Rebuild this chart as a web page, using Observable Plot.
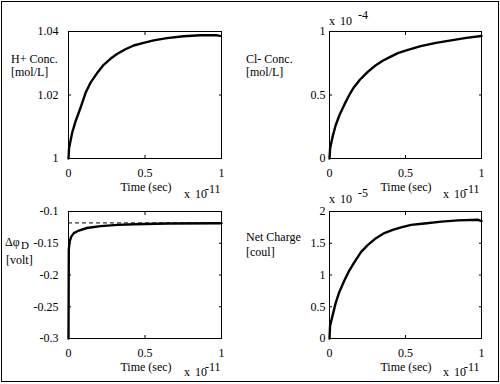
<!DOCTYPE html>
<html><head><meta charset="utf-8">
<script src="https://cdn.jsdelivr.net/npm/d3@7"></script>
<script src="https://cdn.jsdelivr.net/npm/@observablehq/plot@0.6"></script>
<style>
body{margin:0;background:#fff;}
#wrap{position:relative;width:500px;height:384px;overflow:hidden;background:#fff;font-family:"Liberation Serif","Times New Roman",serif;font-size:12px;color:#000;}
#border{position:absolute;left:1px;top:1px;width:496px;height:379px;border:1px solid #000;}
.panel{position:absolute;}
.lbl{position:absolute;white-space:nowrap;line-height:12px;height:12px;color:#000;}
</style></head><body><div id="wrap"><div id="border"></div></div>
<script>
// time in units of 1e-11 s
const timeTicks = [0, 0.5, 1];

const hTime = [0, 0.004, 0.024, 0.046, 0.078, 0.111, 0.143, 0.187, 0.23, 0.274, 0.317, 0.372, 0.426, 0.491, 0.557, 0.643, 0.752, 0.861, 0.97, 0.99];
const hConc = [1.0, 1.0034, 1.0081, 1.0117, 1.0159, 1.0206, 1.0238, 1.0269, 1.0295, 1.0314, 1.0329, 1.0344, 1.0356, 1.0364, 1.0372, 1.0379, 1.0385, 1.0388, 1.0388, 1.0386];
const hTicks = [1, 1.02, 1.04];

// Cl- concentration in units of 1e-4 mol/L
const clTime = [0, 0.004, 0.02, 0.04, 0.065, 0.1, 0.13, 0.16, 0.2, 0.25, 0.3, 0.35, 0.4, 0.45, 0.5, 0.6, 0.7, 0.8, 0.9, 1.0];
const clConc = [0, 0.08, 0.17, 0.26, 0.34, 0.43, 0.5, 0.56, 0.62, 0.68, 0.73, 0.77, 0.8, 0.83, 0.85, 0.885, 0.91, 0.93, 0.95, 0.965];
const clTicks = [0, 0.5, 1];

// membrane potential difference [volt]
const phiTime = [0, 0.002, 0.007, 0.017, 0.035, 0.068, 0.12, 0.21, 0.32, 0.43, 0.65, 1.0];
const phiVolt = [-0.3, -0.16, -0.148, -0.14, -0.134, -0.13, -0.126, -0.123, -0.121, -0.12, -0.119, -0.1185];
const phiRef = [-0.118];
const phiTicks = [-0.3, -0.25, -0.2, -0.15, -0.1];

// net charge in units of 1e-5 coul
const qTime = [0, 0.004, 0.02, 0.042, 0.064, 0.097, 0.13, 0.163, 0.207, 0.251, 0.306, 0.361, 0.416, 0.471, 0.537, 0.625, 0.736, 0.846, 0.978, 1.0];
const qCharge = [0, 0.2, 0.36, 0.57, 0.73, 0.91, 1.07, 1.2, 1.36, 1.47, 1.58, 1.66, 1.71, 1.75, 1.79, 1.81, 1.84, 1.86, 1.87, 1.85];
const qTicks = [0, 0.5, 1, 1.5, 2];

const wrap = document.getElementById("wrap");
const FONT = '"Liberation Serif","Times New Roman",serif';

function panel({t, v, ticks, pos, ml, mr, padY, extra = []}) {
  const data = t.map((d, i) => ({t: d, v: v[i]}));
  const yDomain = [ticks[0], ticks[ticks.length - 1]];
  const fmt = d => String(d);
  const svg = Plot.plot({
    width: 250, height: 192,
    marginLeft: ml, marginRight: mr, marginTop: 31, marginBottom: 34,
    style: {background: "none", overflow: "visible", fontFamily: FONT, fontSize: "12px", color: "#000"},
    x: {domain: [0, 1], label: null},
    y: {domain: yDomain, label: null},
    marks: [
      ...extra,
      Plot.line(data, {x: "t", y: "v", stroke: "#000", strokeWidth: 2.4, strokeLinejoin: "round"}),
      Plot.frame({stroke: "#000", strokeWidth: 1}),
      Plot.axisX({anchor: "bottom", ticks: timeTicks, tickSize: 0, tickPadding: 10, tickFormat: fmt, label: null, fontSize: 12}),
      Plot.axisX({anchor: "bottom", ticks: timeTicks, tickSize: -3, fill: "none", label: null}),
      Plot.axisX({anchor: "top", ticks: timeTicks, tickSize: -3, fill: "none", label: null}),
      Plot.axisY({anchor: "left", ticks, tickSize: 0, tickPadding: padY, tickFormat: fmt, label: null, fontSize: 12}),
      Plot.axisY({anchor: "left", ticks, tickSize: -3, fill: "none", label: null}),
      Plot.axisY({anchor: "right", ticks, tickSize: -3, fill: "none", label: null})
    ]
  });
  svg.classList.add("panel");
  svg.style.left = pos[0] + "px";
  svg.style.top = pos[1] + "px";
  wrap.appendChild(svg);
}

panel({t: hTime, v: hConc, ticks: hTicks, pos: [0, 0], ml: 68, mr: 29, padY: 10});
panel({t: clTime, v: clConc, ticks: clTicks, pos: [250, 0], ml: 79, mr: 19, padY: 4});
panel({t: phiTime, v: phiVolt, ticks: phiTicks, pos: [0, 180], ml: 68, mr: 29, padY: 10,
  extra: [Plot.ruleY(phiRef, {stroke: "#000", strokeWidth: 1, strokeDasharray: "4,3"})]});
panel({t: qTime, v: qCharge, ticks: qTicks, pos: [250, 180], ml: 79, mr: 19, padY: 4});

function label(text, x, baseline, center = false, extraStyle = "") {
  const s = document.createElement("span");
  s.className = "lbl";
  s.textContent = text;
  s.style.left = x + "px";
  s.style.top = (baseline - 10) + "px";
  if (center) s.style.transform = "translateX(-50%)";
  if (extraStyle) s.style.cssText += extraStyle;
  wrap.appendChild(s);
}
const timeLabel = "Time (sec)";
const scaleBase = "x 10";
const ws = "word-spacing:2px;";
// panel 1
label("H+ Conc.", 11, 63);
label("[mol/L]", 11, 76);
label(timeLabel, 146, 191, true);
label(scaleBase, 184, 198, false, ws); label("-11", 205, 193);
// panel 2
label("Cl- Conc.", 246, 63);
label("[mol/L]", 246, 76);
label(scaleBase, 329, 25, false, ws); label("-4", 358, 19);
label(timeLabel, 406, 191, true);
label(scaleBase, 443, 198, false, ws); label("-11", 464, 193);
// panel 3
label("\u0394\u03C6", 5, 246); label("D", 21, 250, false, "font-size:11px;height:11px;line-height:11px;");
label("[volt]", 6, 264);
label(timeLabel, 146, 371, true);
label(scaleBase, 184, 376, false, ws); label("-11", 205, 371);
// panel 4
label("Net Charge", 246, 241);
label("[coul]", 246, 256);
label(scaleBase, 329, 203, false, ws); label("-5", 358, 197);
label(timeLabel, 406, 371, true);
label(scaleBase, 443, 376, false, ws); label("-11", 464, 371);
</script></body></html>
